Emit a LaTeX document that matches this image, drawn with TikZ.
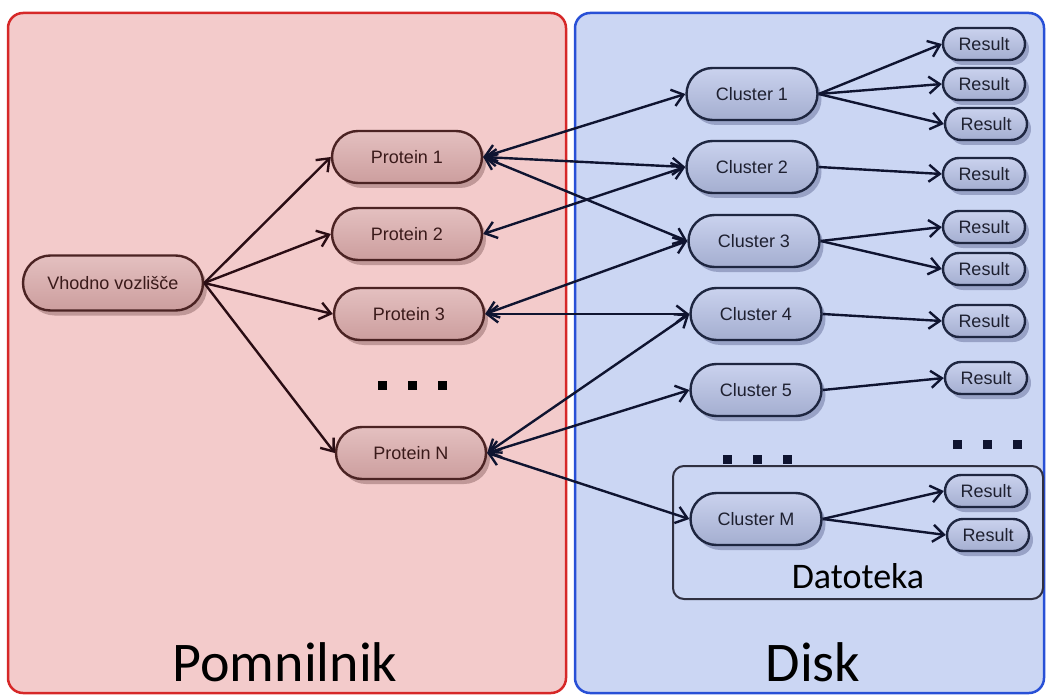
\documentclass[tikz,border=0pt]{standalone}
\usepackage{fontspec}
\usetikzlibrary{shapes.misc,arrows.meta,shadows}
\newfontfamily\nodefont{Liberation Sans}
\newfontfamily\labfont{Carlito}
\definecolor{redfill}{HTML}{F3CBCB}
\definecolor{reddraw}{HTML}{D62828}
\definecolor{bluefill}{HTML}{CBD6F3}
\definecolor{bluedraw}{HTML}{2850D6}
\definecolor{prottop}{HTML}{E4C0C0}
\definecolor{protbot}{HTML}{CC9E9E}
\definecolor{protdraw}{HTML}{4B2323}
\definecolor{prottext}{HTML}{3A1A1A}
\definecolor{protshadow}{HTML}{C09898}
\definecolor{clutop}{HTML}{CAD2EE}
\definecolor{clubot}{HTML}{A4AED0}
\definecolor{cludraw}{HTML}{1E2640}
\definecolor{clutext}{HTML}{1E2030}
\definecolor{clushadow}{HTML}{98A2C6}
\definecolor{arrleft}{HTML}{2A0D14}
\definecolor{arrright}{HTML}{0F1430}
\definecolor{boxdraw}{HTML}{303040}
\tikzset{
  pnl/.style={rounded corners=15pt, line width=2.5pt},
  bubble/.style={rounded rectangle, draw, line width=2.4pt, inner sep=0pt,
    font=\fontsize{18}{21}\selectfont\nodefont},
  prot/.style={bubble, draw=protdraw, top color=prottop, bottom color=protbot,
    text=prottext, minimum width=150pt, minimum height=52pt,
    drop shadow={shadow xshift=4pt, shadow yshift=-5pt, fill=protshadow, opacity=1}},
  clu/.style={bubble, draw=cludraw, top color=clutop, bottom color=clubot,
    text=clutext, minimum width=131pt, minimum height=52pt,
    drop shadow={shadow xshift=4pt, shadow yshift=-5pt, fill=clushadow, opacity=1}},
  res/.style={clu, minimum width=82pt, minimum height=32pt},
  tip/.tip={Straight Barb[length=11pt,width=17pt]},
  arr/.style={line width=2.4pt, -tip},
  darr/.style={line width=2.4pt, tip-tip},
  dot/.style={minimum size=9pt, inner sep=0pt},
  biglab/.style={anchor=base, font=\fontsize{56}{60}\selectfont\labfont},
}
\begin{document}
\begin{tikzpicture}[x=1pt,y=-1pt]
\useasboundingbox (0,0) rectangle (1046,695);
% panels
\draw[pnl, draw=reddraw, fill=redfill] (8,13) rectangle (566,693);
\draw[pnl, draw=bluedraw, fill=bluefill] (575,13) rectangle (1044,693);
\draw[line width=2pt, draw=boxdraw, rounded corners=11pt] (673,466) rectangle (1043,599);
\node[biglab] (pom) at (285,681) {Pomnilnik};
\node[biglab] (disk) at (813,681) {Disk};
\node[anchor=base, font=\fontsize{36}{40}\selectfont\labfont] (dat) at (858,588) {Datoteka};
% nodes
\node[prot, minimum width=180pt, minimum height=55pt] (vh) at (113,283) {Vhodno vozlišče};
\node[prot] (p1) at (407,157) {Protein 1};
\node[prot] (p2) at (407,234) {Protein 2};
\node[prot] (p3) at (409,314) {Protein 3};
\node[prot] (pn) at (411,453) {Protein N};
\node[clu] (c1) at (752,94) {Cluster 1};
\node[clu] (c2) at (752,167) {Cluster 2};
\node[clu] (c3) at (754,241) {Cluster 3};
\node[clu] (c4) at (756,314) {Cluster 4};
\node[clu] (c5) at (756,390) {Cluster 5};
\node[clu] (cm) at (756,519) {Cluster M};
\node[res] (r1a) at (984,44) {Result};
\node[res] (r1b) at (984,84) {Result};
\node[res] (r1c) at (986,124) {Result};
\node[res] (r2) at (984,174) {Result};
\node[res] (r3a) at (984,227) {Result};
\node[res] (r3b) at (984,269) {Result};
\node[res] (r4) at (984,321) {Result};
\node[res] (r5) at (986,378) {Result};
\node[res] (rma) at (986,491) {Result};
\node[res] (rmb) at (988,535) {Result};
% dots
\node[dot, fill=black] (d1a) at (382,385) {};
\node[dot, fill=black] (d1b) at (412,385) {};
\node[dot, fill=black] (d1c) at (442,385) {};
\node[dot, fill=arrright] (d2a) at (727,459) {};
\node[dot, fill=arrright] (d2b) at (757,459) {};
\node[dot, fill=arrright] (d2c) at (787,459) {};
\node[dot, fill=arrright] (d3a) at (957,444) {};
\node[dot, fill=arrright] (d3b) at (987,444) {};
\node[dot, fill=arrright] (d3c) at (1017,444) {};
% edges
\begin{scope}[draw=arrleft]
\draw[arr] (vh.east) -- (p1.west);
\draw[arr] (vh.east) -- (p2.west);
\draw[arr] (vh.east) -- (p3.west);
\draw[arr] (vh.east) -- (pn.west);
\end{scope}
\begin{scope}[draw=arrright]
\draw[darr] (p1.east) -- (c1.west);
\draw[darr] (p1.east) -- (c2.west);
\draw[darr] (p1.east) -- (c3.west);
\draw[darr] (p2.east) -- (c2.west);
\draw[darr] (p3.east) -- (c3.west);
\draw[darr] (p3.east) -- (c4.west);
\draw[darr] (pn.east) -- (c4.west);
\draw[darr] (pn.east) -- (c5.west);
\draw[darr] (pn.east) -- (cm.west);
\draw[arr] (c1.east) -- (r1a.west);
\draw[arr] (c1.east) -- (r1b.west);
\draw[arr] (c1.east) -- (r1c.west);
\draw[arr] (c2.east) -- (r2.west);
\draw[arr] (c3.east) -- (r3a.west);
\draw[arr] (c3.east) -- (r3b.west);
\draw[arr] (c4.east) -- (r4.west);
\draw[arr] (c5.east) -- (r5.west);
\draw[arr] (cm.east) -- (rma.west);
\draw[arr] (cm.east) -- (rmb.west);
\end{scope}
\end{tikzpicture}
\end{document}
